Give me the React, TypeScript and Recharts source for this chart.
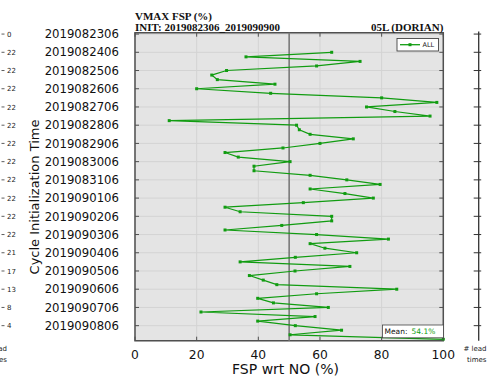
import {
  LineChart,
  Line,
  XAxis,
  YAxis,
  CartesianGrid,
  ReferenceLine,
  ReferenceArea,
} from "recharts";

// cycle labels shown on the y axis (one per day, 06 UTC)
const cycleLabels = [
  "2019082306",
  "2019082406",
  "2019082506",
  "2019082606",
  "2019082706",
  "2019082806",
  "2019082906",
  "2019083006",
  "2019083106",
  "2019090106",
  "2019090206",
  "2019090306",
  "2019090406",
  "2019090506",
  "2019090606",
  "2019090706",
  "2019090806",
];

// number of lead times per labelled cycle (neighbouring panel)
const leadTimeCounts = [0, 22, 22, 22, 22, 22, 22, 22, 22, 22, 22, 22, 21, 17, 13, 8, 4];

const xTicks = [0, 20, 40, 60, 80, 100];

// FSP (%) for every 6-hourly cycle, starting at 2019082406
const firstCycle = 4;
const fspAll = [
  63.8, 36.0, 73.0, 58.9, 29.7, 24.9, 26.7, 45.4, 20.0, 44.0, 80.0, 97.9, 75.1,
  84.3, 95.7, 11.1, 52.4, 53.3, 56.8, 70.8, 60.0, 48.0, 29.2, 33.5, 50.3, 38.6,
  38.6, 56.8, 68.7, 79.5, 56.8, 68.1, 77.3, 54.6, 29.2, 34.1, 63.8, 63.8, 47.6,
  29.2, 58.9, 82.2, 56.8, 61.6, 71.9, 52.0, 34.1, 69.7, 51.9, 37.1, 41.6, 46.0,
  84.9, 58.9, 39.8, 44.9, 62.7, 21.4, 58.4, 39.8, 52.0, 67.0, 50.3, 100.0,
];
const meanText = "54.1%";

const data = fspAll.map((fsp, i) => ({ cycle: firstCycle + i, fsp }));

const W = 487;
const H = 377;
const PLOT = { left: 135, right: 443.3, top: 32.7, bottom: 340.7 };
const plotW = PLOT.right - PLOT.left;
const plotH = PLOT.bottom - PLOT.top;
const GREEN = "#119c11";
const FRAME = "#505050";
const FAR_AXIS_X = 478.7;

const YTick = (props: any) => {
  const { x, y, payload } = props;
  const idx = Math.round(payload.value / 4);
  return (
    <g>
      <line x1={x} x2={x + 4} y1={y} y2={y} stroke={FRAME} strokeWidth={1} />
      <line x1={x + plotW - 4} x2={x + plotW} y1={y} y2={y} stroke={FRAME} strokeWidth={1} />
      <text
        x={x - 16}
        y={y}
        dy={4.2}
        textAnchor="end"
        fontSize={11.7}
        fontFamily="DejaVu Sans"
        fill="#111"
      >
        {cycleLabels[idx]}
      </text>
      <line x1={FAR_AXIS_X - 5} x2={FAR_AXIS_X + 2.5} y1={y} y2={y} stroke="#333" strokeWidth={1} />
      <line x1={1.5} x2={4.5} y1={y} y2={y} stroke="#333" strokeWidth={0.8} />
      <text x={7} y={y} dy={2.6} fontSize={7} fontFamily="DejaVu Sans" fill="#222">
        {leadTimeCounts[idx]}
      </text>
    </g>
  );
};

const XTick = (props: any) => {
  const { x, y, payload } = props;
  return (
    <g>
      <line x1={x} x2={x} y1={y} y2={y - 4} stroke={FRAME} strokeWidth={1} />
      <line x1={x} x2={x} y1={y - plotH} y2={y - plotH + 4} stroke={FRAME} strokeWidth={1} />
      <text
        x={x}
        y={y + 18}
        textAnchor="middle"
        fontSize={12.3}
        fontFamily="DejaVu Sans"
        fill="#111"
      >
        {payload.value}
      </text>
    </g>
  );
};

const SquareDot = (props: any) => {
  const { cx, cy } = props;
  if (cx == null || cy == null) return null;
  return <rect x={cx - 1.5} y={cy - 1.5} width={3} height={3} fill={GREEN} />;
};

export default function App() {
  return (
    <div style={{ position: "absolute", left: 0, top: 0, width: W, height: H, background: "#fff" }}>
      <LineChart
        width={W}
        height={H}
        data={data}
        layout="vertical"
        margin={{ top: PLOT.top, right: W - PLOT.right, left: 0, bottom: 0 }}
      >
        <CartesianGrid fill="#e4e4e4" stroke="#d3d3d3" strokeWidth={1} />
        <XAxis
          type="number"
          domain={[0, 100]}
          ticks={xTicks}
          height={H - PLOT.bottom}
          tickSize={0}
          tickMargin={0}
          axisLine={false}
          tick={<XTick />}
          interval={0}
        />
        <YAxis
          type="number"
          dataKey="cycle"
          domain={[-0.3, 67.3]}
          allowDataOverflow
          ticks={cycleLabels.map((_, i) => i * 4)}
          width={PLOT.left}
          tickSize={0}
          tickMargin={0}
          axisLine={false}
          tick={<YTick />}
          interval={0}
        />
        <ReferenceLine x={50} stroke="#7a7a7a" strokeWidth={1.6} />
        <Line
          dataKey="fsp"
          stroke={GREEN}
          strokeWidth={1.2}
          dot={<SquareDot />}
          isAnimationActive={false}
        />
        <ReferenceArea
          x1={0}
          x2={100}
          y1={-0.3}
          y2={67.3}
          fill="none"
          fillOpacity={0}
          stroke={FRAME}
          strokeWidth={1.5}
        />
      </LineChart>
      <svg
        width={W}
        height={H}
        style={{ position: "absolute", left: 0, top: 0, pointerEvents: "none" }}
      >
        <g fontFamily="Liberation Serif" fontWeight="bold" fontSize={11} fill="#111">
          <text x={PLOT.left} y={20}>VMAX FSP (%)</text>
          <text x={PLOT.left} y={31}>INIT: 2019082306_2019090900</text>
          <text x={PLOT.right} y={31} textAnchor="end">05L (DORIAN)</text>
        </g>
        <text
          x={38.5}
          y={197}
          transform="rotate(-90 38.5 197)"
          textAnchor="middle"
          fontSize={13}
          fontFamily="DejaVu Sans"
          fill="#111"
        >
          Cycle Initialization Time
        </text>
        <text x={285.5} y={373.5} textAnchor="middle" fontSize={14} fontFamily="DejaVu Sans" fill="#111">
          FSP wrt NO (%)
        </text>
        {/* legend */}
        <rect x={397} y={38.5} width={41.5} height={12.5} fill="#fff" stroke="#444" strokeWidth={0.9} />
        <line x1={400} x2={420} y1={44.7} y2={44.7} stroke={GREEN} strokeWidth={1.3} />
        <rect x={408.5} y={43.2} width={3} height={3} fill={GREEN} />
        <text x={422.5} y={47} fontSize={6.5} fontFamily="DejaVu Sans" fill="#222">ALL</text>
        {/* mean box */}
        <rect x={382.5} y={325} width={61} height={12.8} fill="#fff" stroke="#444" strokeWidth={0.8} />
        <text x={384.5} y={334.3} fontSize={7.5} fontFamily="DejaVu Sans" fill="#111">
          Mean:
        </text>
        <text x={411.5} y={334.3} fontSize={7.5} fontFamily="DejaVu Sans" fill={GREEN}>
          {meanText}
        </text>
        {/* neighbouring panel axis on the right */}
        <line x1={FAR_AXIS_X} x2={FAR_AXIS_X} y1={31.5} y2={340.7} stroke="#333" strokeWidth={1.3} />
        <g fontSize={7} fontFamily="DejaVu Sans" fill="#222">
          <text x={486.5} y={351} textAnchor="end"># lead</text>
          <text x={486.5} y={361.5} textAnchor="end">times</text>
          <text x={7} y={351} textAnchor="end"># lead</text>
          <text x={7} y={361.5} textAnchor="end">times</text>
        </g>
      </svg>
    </div>
  );
}
